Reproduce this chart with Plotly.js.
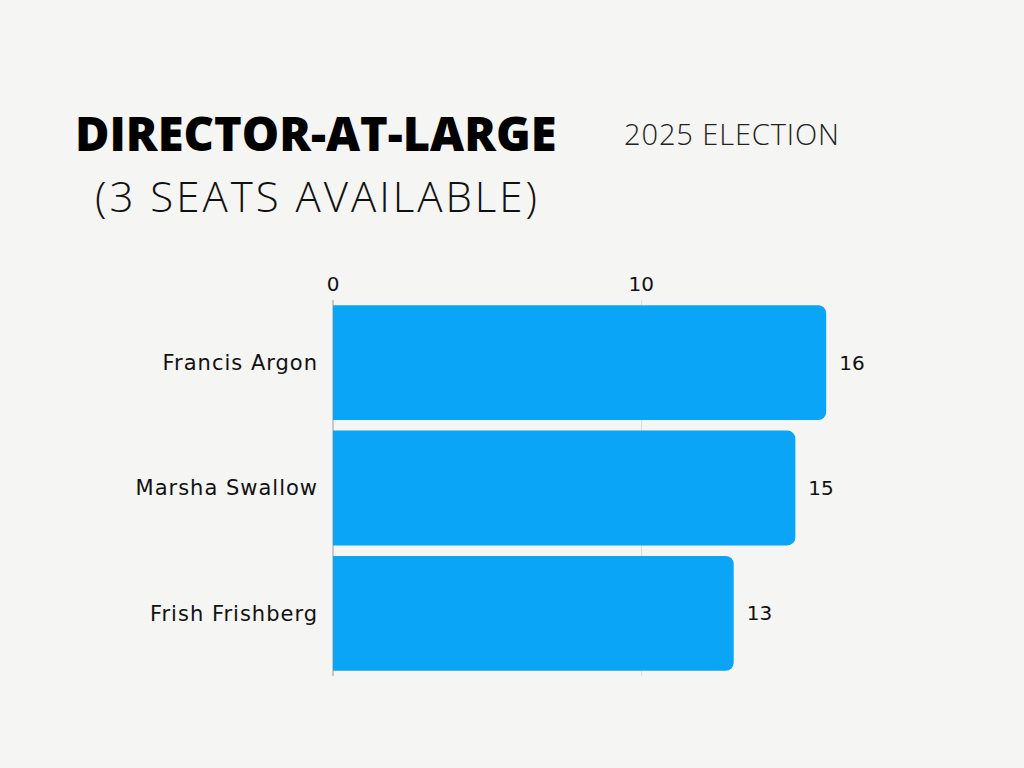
<!DOCTYPE html>
<html>
<head>
<meta charset="utf-8">
<script src="https://cdn.plot.ly/plotly-3.0.1.min.js"></script>
<style>
html,body{margin:0;padding:0;background:#f5f5f3;}
#chart{width:1024px;height:768px;}
#chart .ytick text{letter-spacing:1px;}
#chart .annotation[data-index="1"] text{letter-spacing:0.9px;}
#chart .annotation[data-index="2"] text{letter-spacing:3px;}
</style>
</head>
<body>
<div id="chart"></div>
<script>
const candidates = ["Francis Argon", "Marsha Swallow", "Frish Frishberg"];
const votes = [16, 15, 13];
const tickValues = [0, 10];
const tickLabels = ["0", "10"];

const labelFont = "'DejaVu Sans', Inter, sans-serif";

const trace = {
  type: "bar",
  orientation: "h",
  y: candidates,
  x: votes,
  marker: {color: "#0ba5f7", cornerradius: 8},
  text: votes.map(String),
  textposition: "outside",
  texttemplate: "\u2002%{text}",
  textfont: {family: labelFont, size: 20, color: "#111"},
  cliponaxis: false,
  hoverinfo: "skip"
};

const layout = {
  width: 1024, height: 768,
  paper_bgcolor: "#f5f5f3",
  plot_bgcolor: "#f5f5f3",
  margin: {l: 333, r: 167, t: 300, b: 92},
  bargap: 0.084,
  showlegend: false,
  xaxis: {
    side: "top",
    range: [0, 17],
    tickvals: tickValues,
    ticktext: tickLabels,
    showgrid: true,
    gridcolor: "#dcdcdc",
    gridwidth: 1,
    zeroline: true,
    zerolinecolor: "#c8c8c8",
    zerolinewidth: 1.5,
    ticks: "",
    ticklabelstandoff: 4,
    tickfont: {family: labelFont, size: 20, color: "#111"},
    fixedrange: true
  },
  yaxis: {
    autorange: "reversed",
    ticks: "",
    showgrid: false,
    zeroline: false,
    ticklabelstandoff: 14,
    tickfont: {family: labelFont, size: 21, color: "#111"},
    fixedrange: true
  },
  annotations: [
    {text: "DIRECTOR-AT-LARGE", xref: "paper", yref: "paper", xanchor: "left", yanchor: "middle", align: "left", showarrow: false,
     font: {family: "'Open Sans', sans-serif", size: 47, color: "#000", weight: 800}},
    {text: "2025 ELECTION", xref: "paper", yref: "paper", showarrow: false, xanchor: "left", yanchor: "middle", align: "left",
     font: {family: "'Open Sans', sans-serif", size: 29, color: "#222", weight: 300}},
    {text: "(3 SEATS AVAILABLE)", xref: "paper", yref: "paper", showarrow: false, xanchor: "left", yanchor: "middle", align: "left",
     font: {family: "'Open Sans', sans-serif", size: 42, color: "#111", weight: 300}}
  ]
};

const plotW = 1024 - 333 - 167, plotH = 768 - 300 - 92;
function px(xp){ return (xp - 333) / plotW; }
function py(yp){ return (768 - 92 - yp) / plotH; }
layout.annotations[0].x = px(73);  layout.annotations[0].y = py(133);
layout.annotations[1].x = px(622); layout.annotations[1].y = py(133);
layout.annotations[2].x = px(93);  layout.annotations[2].y = py(196);

Plotly.newPlot("chart", [trace], layout, {displayModeBar: false, staticPlot: true});
</script>
</body>
</html>
